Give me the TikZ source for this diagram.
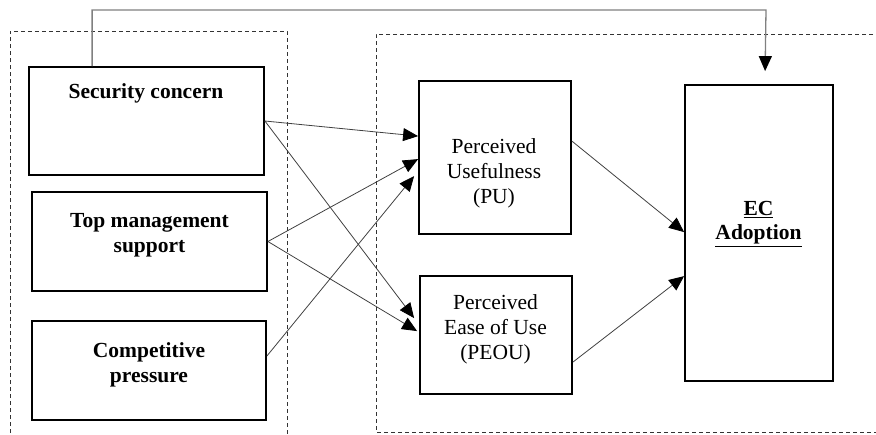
\documentclass[tikz,border=0pt]{standalone}
\usepackage{fontspec}
\setmainfont{Liberation Serif}
\usetikzlibrary{arrows.meta,calc}
\begin{document}
\begin{tikzpicture}[x=1pt,y=-1pt,
  box/.style={draw=black,line width=1.8pt,minimum width=#1,inner sep=0pt},
  lbl/.style={align=center,inner sep=0pt,font=\fontsize{21.5}{25}\selectfont},
  tip/.style={-{Triangle[length=15pt,width=13pt,color=black]}},
  conn/.style={draw=black!75,line width=0.8pt,tip},
  grp/.style={draw=black!80,line width=0.8pt,dash pattern=on 4pt off 3pt}]
\useasboundingbox (0,0) rectangle (876,434);
\clip (0,0) rectangle (876,434);
% group frames
\draw[grp] (10,440) -- (10,31) -- (287,31) -- (287,440);
\draw[grp] (880,34) -- (376,34) -- (376,432) -- (880,432);
% boxes
\node[box=235pt,minimum height=108pt] (sc) at (146.5,121) {};
\node[box=235pt,minimum height=99pt] (tm) at (149.5,241.5) {};
\node[box=234pt,minimum height=99pt] (cp) at (149,370.5) {};
\node[box=152pt,minimum height=153pt] (pu) at (495,157.5) {};
\node[box=152pt,minimum height=118pt] (peou) at (496,335) {};
\node[box=148pt,minimum height=296pt] (ec) at (759,233) {};
% labels
\node[lbl,font=\fontsize{21.5}{25}\selectfont\bfseries] (sct) at (146,93) {Security concern};
\node[lbl,font=\fontsize{21.5}{25}\selectfont\bfseries] (tmt) at (149.5,235.5) {Top management\\support};
\node[lbl,font=\fontsize{21.5}{25}\selectfont\bfseries] (cpt) at (149,364.5) {Competitive\\pressure};
\node[lbl] (put) at (494,173.8) {Perceived\\Usefulness\\(PU)};
\node[lbl] (peout) at (495.5,329.3) {Perceived\\Ease of Use\\(PEOU)};
\node[lbl,font=\fontsize{21.5}{24}\selectfont\bfseries] (ect) at (758.5,224) {\underline{EC}\\\underline{Adoption}};
% connectors
\draw[conn] (sc.east) -- ($(pu.north west)+(0,56)$);
\draw[conn] (sc.east) -- ($(peou.north west)+(-5,43)$);
\draw[conn] (tm.east) -- ($(pu.north west)+(0,79)$);
\draw[conn] (tm.east) -- ($(peou.north west)+(-2,56)$);
\draw[conn] ($(cp.east)+(0,-14.5)$) -- ($(pu.north west)+(-4,96)$);
\draw[conn] ($(pu.north east)+(0,61)$) -- ($(ec.north west)+(0,148)$);
\draw[conn] ($(peou.north east)+(0,87)$) -- ($(ec.north west)+(0,192)$);
\coordinate (fbtip) at ($(ec.north west)+(81,-13)$);
\draw[draw=black!50,line width=1.3pt,tip] ($(sc.north west)+(64,0)$) |- (766,10) -- (fbtip);
\end{tikzpicture}
\end{document}
